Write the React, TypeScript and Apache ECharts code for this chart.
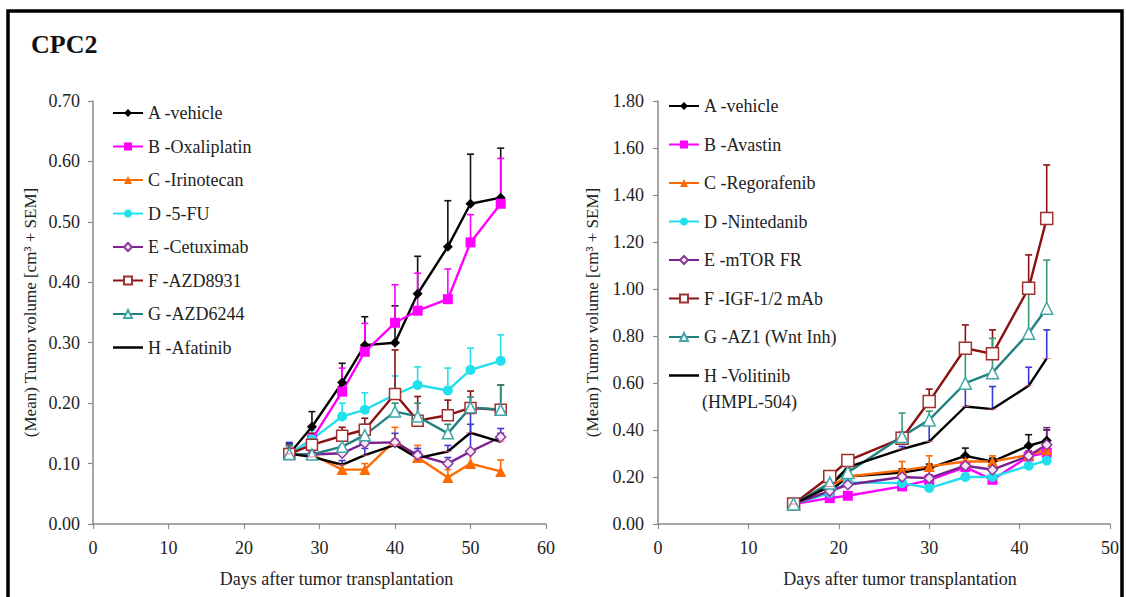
import React, { useEffect, useRef } from "react";
import * as echarts from "echarts";

// ---------- data ----------
const leftDays = [26, 29, 33, 36, 40, 43, 47, 50, 54];
const rightDays = [15, 19, 21, 27, 30, 34, 37, 41, 43];

const leftNames = ["A -vehicle", "B -Oxaliplatin", "C -Irinotecan", "D -5-FU", "E -Cetuximab", "F -AZD8931", "G -AZD6244", "H -Afatinib"];
const rightNames = ["A -vehicle", "B -Avastin", "C -Regorafenib", "D -Nintedanib", "E -mTOR FR", "F -IGF-1/2 mAb", "G -AZ1 (Wnt Inh)", "H -Volitinib (HMPL-504)"];

const leftA = [0.116, 0.161, 0.234, 0.296, 0.300, 0.381, 0.459, 0.530, 0.540];
const leftB = [0.116, 0.140, 0.219, 0.285, 0.333, 0.353, 0.372, 0.466, 0.530];
const leftC = [0.116, 0.115, 0.090, 0.090, 0.138, 0.110, 0.077, 0.100, 0.087];
const leftD = [0.116, 0.140, 0.178, 0.189, 0.214, 0.230, 0.221, 0.255, 0.270];
const leftE = [0.116, 0.115, 0.117, 0.134, 0.135, 0.114, 0.100, 0.120, 0.144];
const leftF = [0.116, 0.131, 0.146, 0.156, 0.215, 0.171, 0.180, 0.192, 0.189];
const leftG = [0.116, 0.115, 0.128, 0.147, 0.186, 0.178, 0.150, 0.193, 0.189];
const leftH = [0.116, 0.111, 0.098, 0.114, 0.131, 0.109, 0.120, 0.151, 0.136];

const leftErrA = [0.133, 0.186, 0.266, 0.343, 0.361, 0.443, 0.535, 0.612, 0.622];
const leftErrB = [0.130, 0.150, 0.258, 0.332, 0.396, 0.415, 0.422, 0.512, 0.605];
const leftErrC = [0.125, 0.125, 0.100, 0.100, 0.160, 0.130, 0.090, 0.120, 0.106];
const leftErrD = [0.130, 0.155, 0.200, 0.217, 0.245, 0.260, 0.258, 0.291, 0.313];
const leftErrE = [0.135, 0.125, 0.130, 0.150, 0.150, 0.125, 0.110, 0.194, 0.158];
const leftErrF = [0.130, 0.150, 0.160, 0.175, 0.288, 0.211, 0.205, 0.220, 0.230];
const leftErrG = [0.130, 0.125, 0.140, 0.165, 0.200, 0.200, 0.165, 0.210, 0.230];
const leftErrH = [0.125, 0.120, 0.105, 0.125, 0.140, 0.120, 0.130, 0.165, 0.150];

const rightA = [0.085, 0.139, 0.202, 0.219, 0.238, 0.290, 0.266, 0.333, 0.355];
const rightB = [0.085, 0.110, 0.120, 0.160, 0.187, 0.242, 0.188, 0.287, 0.304];
const rightC = [0.085, 0.160, 0.202, 0.228, 0.245, 0.266, 0.266, 0.294, 0.316];
const rightD = [0.085, 0.132, 0.177, 0.174, 0.153, 0.200, 0.200, 0.248, 0.270];
const rightE = [0.085, 0.140, 0.167, 0.200, 0.195, 0.248, 0.231, 0.290, 0.337];
const rightF = [0.085, 0.202, 0.270, 0.365, 0.521, 0.748, 0.724, 1.003, 1.300];
const rightG = [0.085, 0.174, 0.219, 0.372, 0.443, 0.599, 0.644, 0.812, 0.918];
const rightH = [0.085, 0.160, 0.242, 0.319, 0.351, 0.500, 0.489, 0.588, 0.705];

const rightErrA = [0.095, 0.150, 0.215, 0.235, 0.255, 0.323, 0.280, 0.380, 0.400];
const rightErrB = [0.095, 0.120, 0.130, 0.175, 0.200, 0.260, 0.200, 0.300, 0.330];
const rightErrC = [0.095, 0.170, 0.215, 0.266, 0.290, 0.280, 0.290, 0.310, 0.330];
const rightErrD = [0.095, 0.140, 0.190, 0.185, 0.165, 0.215, 0.215, 0.260, 0.285];
const rightErrE = [0.095, 0.150, 0.180, 0.215, 0.210, 0.265, 0.245, 0.310, 0.410];
const rightErrF = [0.095, 0.220, 0.290, 0.390, 0.574, 0.847, 0.826, 1.145, 1.528];
const rightErrG = [0.095, 0.190, 0.235, 0.472, 0.480, 0.750, 0.790, 1.000, 1.123];
const rightErrH = [0.095, 0.170, 0.280, 0.330, 0.430, 0.592, 0.585, 0.667, 0.826];

const leftYTicks = { min: 0, max: 0.7, interval: 0.1 };
const rightYTicks = { min: 0, max: 1.8, interval: 0.2 };
const leftXTicks = { min: 0, max: 60, interval: 10 };
const rightXTicks = { min: 0, max: 50, interval: 10 };

// ---------- styles ----------
const FONT = "Liberation Serif, Times New Roman, serif";
const DASH = "path://M0,0h10v3h-10z";
const LEGEND_BAR = "path://M0,0h30v2.5h-30z";

type Sty = { line: string; fill: string; border: string; symbol: string; size: any; err: string };
const leftStyles: Sty[] = [
  { line: "#000000", fill: "#000000", border: "#000000", symbol: "diamond", size: 10, err: "#111111" },
  { line: "#ff00ff", fill: "#ff00ff", border: "#ff00ff", symbol: "rect", size: 10, err: "#ff00ff" },
  { line: "#ff6a00", fill: "#ff6a00", border: "#ff6a00", symbol: "triangle", size: 11, err: "#ff6a00" },
  { line: "#20e0ee", fill: "#20e0ee", border: "#20e0ee", symbol: "circle", size: 10, err: "#20e0ee" },
  { line: "#7b2090", fill: "#f6e8f6", border: "#8b3a9b", symbol: "diamond", size: 10, err: "#3a3ad8" },
  { line: "#8b1010", fill: "#ffffff", border: "#a03030", symbol: "rect", size: 11, err: "#8b1010" },
  { line: "#238080", fill: "#ffffff", border: "#40a8a8", symbol: "triangle", size: 11, err: "#2e8a7a" },
  { line: "#000000", fill: "#e06080", border: "#e06080", symbol: DASH, size: [8, 2.5], err: "#3a3ad8" },
];
const rightStyles: Sty[] = [
  { line: "#000000", fill: "#000000", border: "#000000", symbol: "diamond", size: 10, err: "#111111" },
  { line: "#ff00ff", fill: "#ff00ff", border: "#ff00ff", symbol: "rect", size: 10, err: "#ff00ff" },
  { line: "#ff6a00", fill: "#ff6a00", border: "#ff6a00", symbol: "triangle", size: 11, err: "#ff6a00" },
  { line: "#20e0ee", fill: "#20e0ee", border: "#20e0ee", symbol: "circle", size: 10, err: "#20e0ee" },
  { line: "#7b2090", fill: "#f6e8f6", border: "#8b3a9b", symbol: "diamond", size: 10, err: "#7b2090" },
  { line: "#8b1010", fill: "#ffffff", border: "#a03030", symbol: "rect", size: 12, err: "#8b1010" },
  { line: "#238080", fill: "#ffffff", border: "#40a8a8", symbol: "triangle", size: 12, err: "#3a9a6a" },
  { line: "#000000", fill: "#e06080", border: "#e06080", symbol: DASH, size: [8, 2.5], err: "#3a3ad8" },
];

const leftVals = [leftA, leftB, leftC, leftD, leftE, leftF, leftG, leftH];
const leftErrs = [leftErrA, leftErrB, leftErrC, leftErrD, leftErrE, leftErrF, leftErrG, leftErrH];
const rightVals = [rightA, rightB, rightC, rightD, rightE, rightF, rightG, rightH];
const rightErrs = [rightErrA, rightErrB, rightErrC, rightErrD, rightErrE, rightErrF, rightErrG, rightErrH];

function buildSeries(gridIdx: number, days: number[], names: string[], vals: number[][], errs: number[][], styles: Sty[]) {
  const out: any[] = [];
  vals.forEach((v, i) => {
    const st = styles[i];
    out.push({
      type: "custom",
      name: "err-" + gridIdx + "-" + i,
      xAxisIndex: gridIdx,
      yAxisIndex: gridIdx,
      z: 1,
      encode: { x: 0, y: [1, 2] },
      data: days.map((d, k) => [d, v[k], errs[i][k]]),
      renderItem: (params: any, api: any) => {
        const p0 = api.coord([api.value(0), api.value(1)]);
        const p1 = api.coord([api.value(0), api.value(2)]);
        return {
          type: "group",
          children: [
            { type: "line", shape: { x1: p0[0], y1: p0[1], x2: p1[0], y2: p1[1] }, style: { stroke: st.err, lineWidth: 1.6 } },
            { type: "line", shape: { x1: p1[0] - 3.5, y1: p1[1], x2: p1[0] + 3.5, y2: p1[1] }, style: { stroke: st.err, lineWidth: 1.6 } },
          ],
        };
      },
    });
  });
  vals.forEach((v, i) => {
    const st = styles[i];
    out.push({
      type: "line",
      name: names[i],
      xAxisIndex: gridIdx,
      yAxisIndex: gridIdx,
      z: 3,
      data: days.map((d, k) => [d, v[k]]),
      symbol: st.symbol,
      symbolSize: st.size,
      symbolKeepAspect: true,
      showAllSymbol: true,
      lineStyle: { color: st.line, width: 2.4 },
      itemStyle: { color: st.fill, borderColor: st.border, borderWidth: st.fill === st.border ? 0 : 1.5 },
    });
  });
  return out;
}

function legendData(names: string[]) {
  return names.map((n, i) =>
    i === names.length - 1 ? { name: n, icon: LEGEND_BAR, itemStyle: { color: "#000000", borderWidth: 0 } } : { name: n }
  );
}

function axisCommon() {
  return {
    axisLine: { lineStyle: { color: "#8a8a8a", width: 1.5 } },
    axisTick: { show: true, length: 5, lineStyle: { color: "#8a8a8a", width: 1.2 } },
    splitLine: { show: false },
  };
}

export default function App() {
  const ref = useRef<HTMLDivElement>(null);
  useEffect(() => {
    if (!ref.current) return;
    const chart = echarts.init(ref.current, undefined, { renderer: "svg" });
    const labelStyle = { color: "#222", fontFamily: FONT, fontSize: 18 };
    const yName = "(Mean) Tumor volume [cm\u00B3 + SEM]";
    const legendText = { color: "#222", fontFamily: FONT, fontSize: 18, lineHeight: 18 };
    const option: any = {
      animation: false,
      backgroundColor: "#ffffff",
      grid: [
        { left: 93, top: 101, width: 453, height: 423 },
        { left: 658, top: 101, width: 452, height: 423 },
      ],
      xAxis: [
        {
          type: "value", gridIndex: 0, ...leftXTicks, ...axisCommon(),
          axisLabel: { ...labelStyle, margin: 15 },
          name: "Days after tumor transplantation", nameLocation: "middle", nameGap: 46,
          nameTextStyle: { ...labelStyle, padding: [0, 0, 0, 34] },
        },
        {
          type: "value", gridIndex: 1, ...rightXTicks, ...axisCommon(),
          axisLabel: { ...labelStyle, margin: 15 },
          name: "Days after tumor transplantation", nameLocation: "middle", nameGap: 46,
          nameTextStyle: { ...labelStyle, padding: [0, 0, 0, 32] },
        },
      ],
      yAxis: [
        {
          type: "value", gridIndex: 0, ...leftYTicks, ...axisCommon(),
          axisLabel: { ...labelStyle, margin: 13, formatter: (v: number) => v.toFixed(2) },
          name: yName, nameLocation: "middle", nameGap: 54, nameRotate: 90,
          nameTextStyle: { color: "#222", fontFamily: FONT, fontSize: 17 },
        },
        {
          type: "value", gridIndex: 1, ...rightYTicks, ...axisCommon(),
          axisLabel: { ...labelStyle, margin: 14, formatter: (v: number) => v.toFixed(2) },
          name: yName, nameLocation: "middle", nameGap: 57, nameRotate: 90,
          nameTextStyle: { color: "#222", fontFamily: FONT, fontSize: 17 },
        },
      ],
      legend: [
        {
          orient: "vertical", left: 112, top: 104, padding: 0, itemWidth: 30, itemHeight: 10, itemGap: 15.5,
          data: legendData(leftNames),
          textStyle: legendText,
          selectedMode: false,
        },
        {
          orient: "vertical", left: 668, top: 97, padding: 0, itemWidth: 30, itemHeight: 10, itemGap: 20.5,
          data: legendData(rightNames),
          formatter: (n: string) => (n.indexOf("Volitinib") >= 0 ? "H -Volitinib" : n),
          textStyle: legendText,
          selectedMode: false,
        },
      ],
      graphic: [
        {
          type: "rect", shape: { x: 8, y: 11, width: 1114, height: 620 },
          style: { fill: "none", stroke: "#000", lineWidth: 3.5 }, z: 10,
        },
        {
          type: "text", x: 31, y: 44,
          style: { text: "CPC2", fontFamily: FONT, fontSize: 26, fontWeight: "bold", fill: "#111", verticalAlign: "middle" },
        },
        {
          type: "text", x: 702, y: 402,
          style: { text: "(HMPL-504)", fontFamily: FONT, fontSize: 18, fill: "#222", verticalAlign: "middle" },
        },
      ],
      series: [
        ...buildSeries(0, leftDays, leftNames, leftVals, leftErrs, leftStyles),
        ...buildSeries(1, rightDays, rightNames, rightVals, rightErrs, rightStyles),
      ],
    };
    chart.setOption(option);
    return () => chart.dispose();
  }, []);
  return <div ref={ref} style={{ position: "fixed", left: 0, top: 0, width: 1126, height: 597 }} />;
}
